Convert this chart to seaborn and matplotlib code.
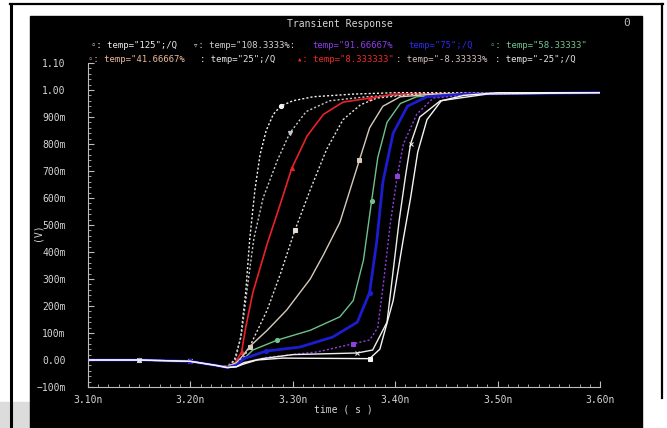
import numpy as np
import pandas as pd
import matplotlib
matplotlib.use("Agg")
import matplotlib.pyplot as plt
from matplotlib.patches import Rectangle
from matplotlib.lines import Line2D
import seaborn as sns

# waveform data: time in ns, voltage in V
t_125 = [3.10, 3.15, 3.20, 3.225, 3.236, 3.243, 3.249, 3.254, 3.258, 3.263, 3.268, 3.274, 3.281, 3.288, 3.30, 3.32, 3.36, 3.40, 3.60]
v_125 = [0.0, 0.0, -0.005, -0.02, -0.025, 0.0, 0.08, 0.25, 0.45, 0.63, 0.76, 0.85, 0.91, 0.94, 0.96, 0.975, 0.985, 0.99, 0.99]

t_108 = [3.10, 3.15, 3.20, 3.225, 3.236, 3.244, 3.250, 3.256, 3.262, 3.271, 3.285, 3.297, 3.313, 3.336, 3.372, 3.42, 3.60]
v_108 = [0.0, 0.0, -0.005, -0.02, -0.025, 0.0, 0.10, 0.28, 0.45, 0.60, 0.74, 0.84, 0.92, 0.96, 0.975, 0.985, 0.99]

t_8 = [3.10, 3.15, 3.20, 3.225, 3.236, 3.244, 3.250, 3.254, 3.261, 3.275, 3.288, 3.299, 3.314, 3.330, 3.349, 3.375, 3.40, 3.60]
v_8 = [0.0, 0.0, -0.005, -0.02, -0.025, -0.01, 0.03, 0.12, 0.25, 0.43, 0.58, 0.71, 0.83, 0.91, 0.955, 0.97, 0.985, 0.99]

t_m8 = [3.10, 3.15, 3.20, 3.225, 3.236, 3.245, 3.252, 3.258, 3.275, 3.288, 3.302, 3.317, 3.333, 3.349, 3.366, 3.382, 3.42, 3.60]
v_m8 = [0.0, 0.0, -0.005, -0.02, -0.025, -0.01, 0.01, 0.05, 0.185, 0.32, 0.48, 0.63, 0.78, 0.89, 0.945, 0.97, 0.985, 0.99]

t_41 = [3.10, 3.15, 3.20, 3.225, 3.236, 3.245, 3.252, 3.258, 3.275, 3.294, 3.317, 3.330, 3.346, 3.365, 3.375, 3.388, 3.405, 3.44, 3.60]
v_41 = [0.0, 0.0, -0.005, -0.02, -0.025, -0.01, 0.02, 0.05, 0.11, 0.185, 0.30, 0.39, 0.51, 0.74, 0.86, 0.94, 0.975, 0.985, 0.99]

t_58 = [3.10, 3.15, 3.20, 3.225, 3.236, 3.245, 3.251, 3.261, 3.285, 3.317, 3.346, 3.359, 3.369, 3.377, 3.383, 3.392, 3.405, 3.421, 3.46, 3.60]
v_58 = [0.0, 0.0, -0.005, -0.02, -0.025, -0.015, 0.0, 0.037, 0.074, 0.11, 0.16, 0.22, 0.37, 0.59, 0.75, 0.88, 0.95, 0.975, 0.985, 0.99]

t_75 = [3.10, 3.15, 3.20, 3.225, 3.236, 3.245, 3.252, 3.274, 3.307, 3.339, 3.363, 3.375, 3.382, 3.388, 3.398, 3.412, 3.431, 3.47, 3.60]
v_75 = [0.0, 0.0, -0.005, -0.02, -0.028, -0.02, 0.005, 0.033, 0.048, 0.085, 0.14, 0.25, 0.44, 0.66, 0.84, 0.94, 0.975, 0.985, 0.99]

t_91 = [3.10, 3.15, 3.20, 3.225, 3.236, 3.245, 3.252, 3.275, 3.324, 3.359, 3.375, 3.383, 3.389, 3.395, 3.402, 3.408, 3.421, 3.437, 3.48, 3.60]
v_91 = [0.0, 0.0, -0.005, -0.02, -0.028, -0.025, -0.01, 0.01, 0.03, 0.06, 0.074, 0.12, 0.30, 0.50, 0.68, 0.80, 0.91, 0.97, 0.985, 0.99]

t_25 = [3.10, 3.15, 3.20, 3.225, 3.236, 3.245, 3.252, 3.27, 3.30, 3.363, 3.378, 3.392, 3.398, 3.404, 3.410, 3.415, 3.424, 3.444, 3.49, 3.60]
v_25 = [0.0, 0.0, -0.005, -0.02, -0.028, -0.025, -0.01, 0.005, 0.02, 0.026, 0.037, 0.14, 0.33, 0.52, 0.68, 0.80, 0.90, 0.96, 0.985, 0.99]

t_m25 = [3.10, 3.15, 3.20, 3.225, 3.236, 3.245, 3.252, 3.265, 3.29, 3.375, 3.385, 3.398, 3.408, 3.415, 3.422, 3.431, 3.445, 3.467, 3.50, 3.60]
v_m25 = [0.0, 0.0, -0.005, -0.02, -0.028, -0.025, -0.015, 0.0, 0.007, 0.005, 0.04, 0.22, 0.45, 0.60, 0.77, 0.89, 0.96, 0.98, 0.99, 0.99]

x_ticks = [3.10, 3.20, 3.30, 3.40, 3.50, 3.60]
x_labels = ["3.10n", "3.20n", "3.30n", "3.40n", "3.50n", "3.60n"]
y_ticks = [-0.1, 0.0, 0.1, 0.2, 0.3, 0.4, 0.5, 0.6, 0.7, 0.8, 0.9, 1.0, 1.1]
y_labels = ["\u2212100m", "0.00", "100m", "200m", "300m", "400m", "500m",
            "600m", "700m", "800m", "900m", "1.00", "1.10"]

# (time, volts, color, linestyle, width, marker, marker indices)
dots = (0, (1.5, 1.5))
curves = [
    (t_125, v_125, "#f2f2f2", dots, 1.0, "o", [1, 13]),
    (t_108, v_108, "#c8c8c8", dots, 1.0, "v", [2, 11]),
    (t_8, v_8, "#e82228", "-", 1.2, "^", [2, 6, 11, 15]),
    (t_m8, v_m8, "#e6ded6", dots, 1.0, "s", [10]),
    (t_41, v_41, "#d8cabc", "-", 1.0, "s", [1, 7, 13]),
    (t_58, v_58, "#6fc08c", "-", 1.0, "o", [8, 13]),
    (t_75, v_75, "#1c1cd0", "-", 2.0, "o", [2, 7, 11]),
    (t_91, v_91, "#9040e0", dots, 1.0, "s", [9, 14]),
    (t_25, v_25, "#eeeeee", "-", 1.0, "x", [1, 9, 15]),
    (t_m25, v_m25, "#f5f5f5", "-", 1.0, "s", [9]),
]

fig = plt.figure(figsize=(6.67, 4.28), dpi=100)
fig.patch.set_facecolor("white")

# window background and frame
fig.add_artist(Rectangle((0, 0), 30 / 667, 26 / 428, transform=fig.transFigure,
                         color="#dcdcdc", zorder=0))
fig.add_artist(Rectangle((30 / 667, 0), 612 / 667, 412 / 428, transform=fig.transFigure,
                         color="black", zorder=0))
fig.add_artist(Line2D([11 / 667, 11 / 667], [0, 424 / 428], transform=fig.transFigure,
                      color="black", lw=2.2))
fig.add_artist(Line2D([10 / 667, 663 / 667], [424 / 428, 424 / 428], transform=fig.transFigure,
                      color="black", lw=1.6))
fig.add_artist(Line2D([662 / 667, 662 / 667], [424 / 428, 30 / 428], transform=fig.transFigure,
                      color="black", lw=1.6))

ax = fig.add_axes([88 / 667, 41 / 428, 512 / 667, 324 / 428])
ax.set_facecolor("black")

for t, v, col, ls, lw, mk, idx in curves:
    df = pd.DataFrame({"t": t, "v": v})
    sns.lineplot(data=df, x="t", y="v", ax=ax, color=col, linestyle=ls, linewidth=lw,
                 marker=mk, markevery=idx, markersize=3, markeredgecolor=col,
                 markerfacecolor=col, sort=False, estimator=None)

ax.set_xlim(3.10, 3.60)
ax.set_ylim(-0.1, 1.1)
ax.set_xticks(x_ticks)
ax.set_xticklabels(x_labels)
ax.set_yticks(y_ticks)
ax.set_yticklabels(y_labels)
ax.set_xticks(np.arange(3.10, 3.601, 0.01), minor=True)
ax.set_yticks(np.arange(-0.1, 1.101, 0.02), minor=True)
ax.set_xlabel("")
ax.set_ylabel("")
ax.grid(False)

for side in ["top", "right"]:
    ax.spines[side].set_visible(False)
for side in ["left", "bottom"]:
    ax.spines[side].set_color("#bdbdbd")
    ax.spines[side].set_linewidth(0.8)

mono = "DejaVu Sans Mono"
ax.tick_params(which="major", direction="in", length=4, width=0.8, color="#bdbdbd",
               labelcolor="#d6d6d6", labelsize=7)
ax.tick_params(which="minor", direction="in", length=2, width=0.6, color="#bdbdbd")
ax.tick_params(axis="y", pad=16)
ax.tick_params(axis="x", pad=6)
for lab in ax.get_xticklabels() + ax.get_yticklabels():
    lab.set_family(mono)

fig.text(37 / 667, 1 - 232 / 428, "(V)", rotation=90, color="#d6d6d6", fontsize=7,
         family=mono, ha="center", va="center")
fig.text(343 / 667, 1 - 409 / 428, "time ( s )", color="#d6d6d6", fontsize=7,
         family=mono, ha="center", va="center")
fig.text(340 / 667, 1 - 24 / 428, "Transient Response", color="#d6d6d6", fontsize=7,
         family=mono, ha="center", va="center")
fig.text(627 / 667, 1 - 23 / 428, "0", color="#bdbdbd", fontsize=8,
         family=mono, ha="center", va="center")

# legend rows as drawn by the waveform viewer
legend_row1 = [(91, '\u25e6: temp="125";/Q', "#eeeeee"),
               (193, '\u25bf: temp="108.3333%:', "#d0d0d0"),
               (312, 'temp="91.66667%', "#8a3ee6"),
               (408, 'temp="75";/Q', "#2a2af0"),
               (490, '\u25e6: temp="58.33333"', "#74c494")]
legend_row2 = [(88, '\u25e6: temp="41.66667%', "#eab89a"),
               (200, ': temp="25";/Q', "#e6e6e6"),
               (297, '\u25b4: temp="8.333333"', "#ee2a2a"),
               (396, ': temp="-8.33333%', "#d4c0bc"),
               (495, ': temp="-25";/Q', "#e6e6e6")]
for row, ypix in [(legend_row1, 46), (legend_row2, 60)]:
    for xpix, txt, col in row:
        fig.text(xpix / 667, 1 - ypix / 428, txt, color=col, fontsize=6.5,
                 family=mono, ha="left", va="center")

fig.savefig("out.png", dpi=100, facecolor=fig.get_facecolor())
